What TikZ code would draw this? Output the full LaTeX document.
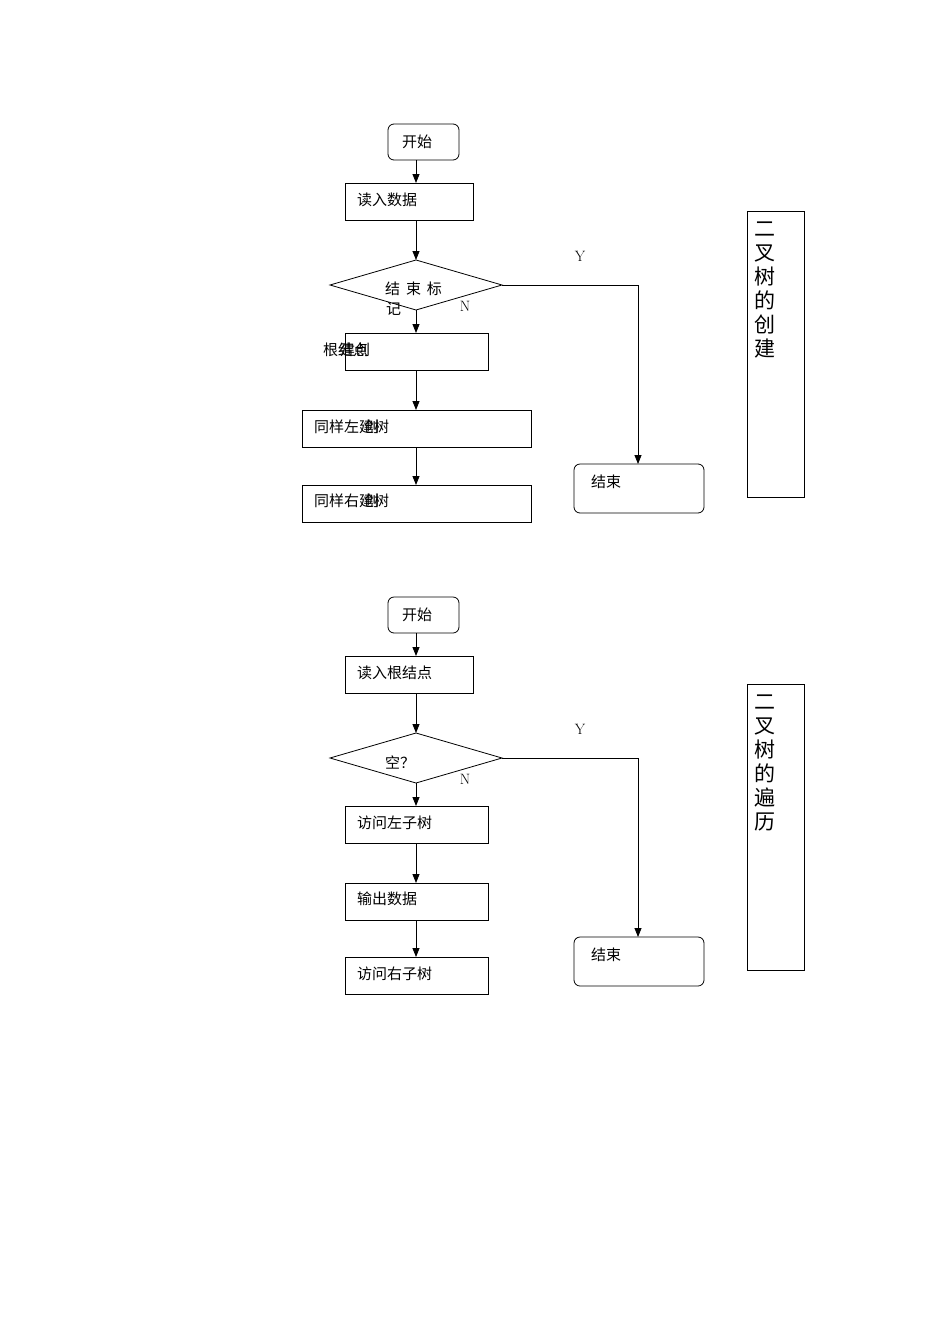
\documentclass[tikz,border=0pt]{standalone}
\usepackage{fontspec}
\newfontfamily\cjk{Noto Sans CJK SC}
\usetikzlibrary{arrows.meta}
\begin{document}
\begin{tikzpicture}[x=1pt,y=-1pt,
  box/.style={draw,line width=0.8pt},
  rbox/.style={draw,line width=0.8pt,rounded corners=6pt},
  txt/.style={font=\cjk\fontsize{15}{18}\selectfont,anchor=west,inner sep=0},
  lat/.style={font=\fontsize{15}{18}\selectfont,inner sep=0},
  arr/.style={-{Triangle[length=9pt,width=7pt]},line width=0.8pt},
  vt/.style={font=\cjk\fontsize{21}{24}\selectfont,align=center,anchor=north,inner sep=0}]
\useasboundingbox (0,0) rectangle (950,1344);
% ---- top ----
\node[rbox,minimum width=71pt,minimum height=36pt] (s1) at (423.5,142) {};
\node[txt] at (402,142) {开始};
\node[box,minimum width=128pt,minimum height=37pt] (r1) at (409,201.5) {};
\node[txt] at (357,200) {读入数据};
\coordinate (dt) at (416,260); \coordinate (db) at (416,310);
\coordinate (dl) at (330,285); \coordinate (dr) at (502,285);
\draw[line width=0.8pt] (dl) -- (dt) -- (dr) -- (db) -- cycle;
\node[txt] at (385,289) {结\,\ 束\,\ 标};
\node[txt] at (386,309) {记};
\node[lat] at (465,306) {N};
\node[lat] at (580,256) {Y};
\node[box,minimum width=143pt,minimum height=37pt] (r2) at (416.5,351.5) {};
\node[txt] at (323,350) {根结点};
\node[txt] at (340,350) {建创};
\node[box,minimum width=229pt,minimum height=37pt] (r3) at (416.5,428.5) {};
\node[txt] at (314,427) {同样左建树};
\node[txt] at (364,427) {创};
\node[box,minimum width=229pt,minimum height=37pt] (r4) at (416.5,503.5) {};
\node[txt] at (314,501) {同样右建树};
\node[txt] at (364,501) {创};
\node[rbox,minimum width=130pt,minimum height=49pt] (e1) at (639,488.5) {};
\node[txt] at (591,482) {结束};
\node[box,minimum width=57pt,minimum height=286pt] (side1) at (775.5,354) {};
\node[vt] at (765,222) {二\\叉\\树\\的\\创\\建};
\draw[arr] (416,160) -- (416,183);
\draw[arr] (416,220) -- (dt);
\draw[arr] (db) -- (416,333);
\draw[arr] (416,370) -- (416,410);
\draw[arr] (416,447) -- (416,485);
\draw[arr] (dr) -- (638,285) -- (638,464);
% ---- bottom ----
\node[rbox,minimum width=71pt,minimum height=36pt] (s2) at (423.5,615) {};
\node[txt] at (402,615) {开始};
\node[box,minimum width=128pt,minimum height=37pt] (q1) at (409,674.5) {};
\node[txt] at (357,673) {读入根结点};
\coordinate (et) at (416,733); \coordinate (eb) at (416,783);
\coordinate (el) at (330,758); \coordinate (er) at (502,758);
\draw[line width=0.8pt] (el) -- (et) -- (er) -- (eb) -- cycle;
\node[txt] at (385,762) {空？};
\node[lat] at (465,779) {N};
\node[lat] at (580,729) {Y};
\node[box,minimum width=143pt,minimum height=37pt] (q2) at (416.5,824.5) {};
\node[txt] at (357,823) {访问左子树};
\node[box,minimum width=143pt,minimum height=37pt] (q3) at (416.5,901.5) {};
\node[txt] at (357,899) {输出数据};
\node[box,minimum width=143pt,minimum height=37pt] (q4) at (416.5,975.5) {};
\node[txt] at (357,974) {访问右子树};
\node[rbox,minimum width=130pt,minimum height=49pt] (e2) at (639,961.5) {};
\node[txt] at (591,955) {结束};
\node[box,minimum width=57pt,minimum height=286pt] (side2) at (775.5,827) {};
\node[vt] at (765,695) {二\\叉\\树\\的\\遍\\历};
\draw[arr] (416,633) -- (416,656);
\draw[arr] (416,693) -- (et);
\draw[arr] (eb) -- (416,806);
\draw[arr] (416,843) -- (416,883);
\draw[arr] (416,920) -- (416,957);
\draw[arr] (er) -- (638,758) -- (638,937);
\end{tikzpicture}
\end{document}
